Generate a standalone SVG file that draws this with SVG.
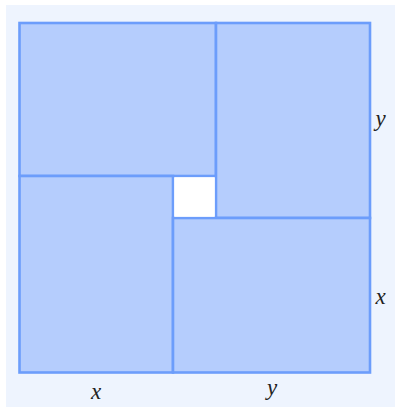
<svg xmlns="http://www.w3.org/2000/svg" width="395" height="407" viewBox="0 0 395 407">
<style>
.sq{fill:#b5cdfd;stroke:#6c9dfb;stroke-width:2.6}
.lbl{font-family:"Liberation Serif","DejaVu Serif",serif;font-style:italic;font-size:23px;fill:#222;text-anchor:middle}
</style>
<rect x="6" y="5" width="389" height="402" fill="#eef4fe"/>
<g id="topLeft"><rect class="sq" x="19.5" y="23" width="196.5" height="153"/></g>
<g id="topRight"><rect class="sq" x="216" y="23" width="154" height="195"/></g>
<g id="bottomLeft"><rect class="sq" x="19.5" y="176" width="153.5" height="196.5"/></g>
<g id="bottomRight"><rect class="sq" x="173" y="218" width="197" height="154.5"/></g>
<g id="center"><rect x="174.3" y="177.3" width="40.4" height="39.4" fill="#ffffff"/></g>
<g id="labels">
<text class="lbl" x="380.5" y="126">y</text>
<text class="lbl" x="380.5" y="304">x</text>
<text class="lbl" x="96" y="399">x</text>
<text class="lbl" x="272" y="395">y</text>
</g>
</svg>
